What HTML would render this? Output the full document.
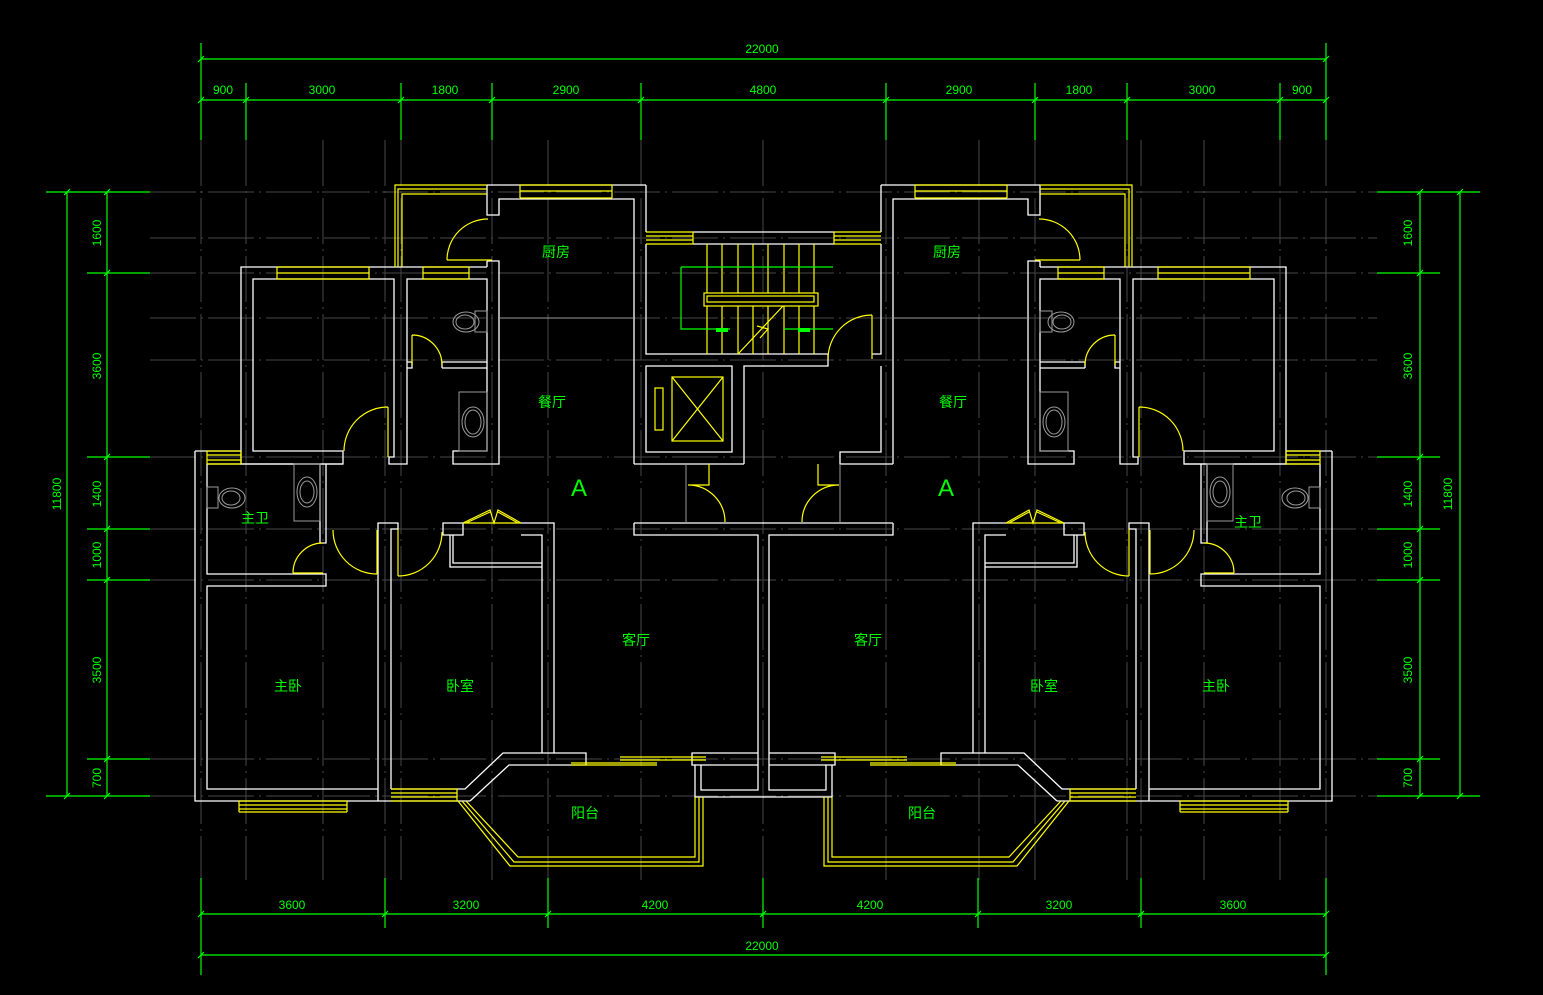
<!DOCTYPE html>
<html><head><meta charset="utf-8"><style>
html,body{margin:0;padding:0;background:#000;}
svg{display:block}
.g{stroke:#474747;stroke-width:1;fill:none;stroke-dasharray:46,5,2,5}
.w{stroke:#fff;stroke-width:1.3;fill:none}
.y{stroke:#ff0;stroke-width:1.2;fill:none}
.gr{stroke:#0f0;stroke-width:1.2;fill:none}
.gy{stroke:#9a9a9a;stroke-width:1;fill:none}
.t{fill:#0f0;font-family:"Liberation Sans",sans-serif;font-size:12px;text-anchor:middle}
.c{fill:#0f0;font-family:"Liberation Sans","Noto Sans CJK SC",sans-serif;font-size:14px;text-anchor:middle}
</style></head><body>
<svg width="1543" height="995" viewBox="0 0 1543 995" xmlns="http://www.w3.org/2000/svg">
<rect width="1543" height="995" fill="#000"/>
<!-- grid -->
<g class="g">
<path d="M201,140V880M246,140V880M323,140V880M385,140V880M401,140V880M492,140V880M548,140V880M641,140V880M763,140V880M886,140V880M979,140V880M1035,140V880M1127,140V880M1141,140V880M1204,140V880M1280,140V880M1326,140V880"/>
<path d="M150,192H1377M150,238H1377M150,273H1377M150,318H1377M150,360H1377M150,457H1377M150,529H1377M150,580H1377M150,759H1377M150,796H1377"/>
</g>
<!-- dimensions -->
<g class="gr">
<path d="M201,59H1326M201,100H1326M201,43V140M1326,43V140"/>
<path d="M246,83V140M401,83V140M492,83V140M641,83V140M886,83V140M1035,83V140M1127,83V140M1280,83V140"/>
<path d="M46,192H150M46,796H150M87,273H150M87,457H150M87,529H150M87,580H150M87,759H150M67,192V796M107,192V796"/>
<path d="M1377,192H1480M1377,796H1480M1377,273H1440M1377,457H1440M1377,529H1440M1377,580H1440M1377,759H1440M1460,192V796M1420,192V796"/>
<path d="M201,914H1326M201,955H1326M201,878V975M1326,878V975M385,878V928M548,878V928M763,878V928M978,878V928M1141,878V928"/>
</g>
<g class="gr" stroke-width="1">
<path d="M198,62l6,-6M198,103l6,-6M243,103l6,-6M398,103l6,-6M489,103l6,-6M638,103l6,-6M883,103l6,-6M1032,103l6,-6M1124,103l6,-6M1277,103l6,-6M1323,103l6,-6M1323,62l6,-6"/>
<path d="M64,195l6,-6M64,799l6,-6M104,195l6,-6M104,276l6,-6M104,460l6,-6M104,532l6,-6M104,583l6,-6M104,762l6,-6M104,799l6,-6"/>
<path d="M1457,195l6,-6M1457,799l6,-6M1417,195l6,-6M1417,276l6,-6M1417,460l6,-6M1417,532l6,-6M1417,583l6,-6M1417,762l6,-6M1417,799l6,-6"/>
<path d="M198,917l6,-6M382,917l6,-6M545,917l6,-6M760,917l6,-6M975,917l6,-6M1138,917l6,-6M1323,917l6,-6M198,958l6,-6M1323,958l6,-6"/>
</g>
<g class="t">
<text x="762" y="53">22000</text>
<text x="223" y="94">900</text><text x="322" y="94">3000</text><text x="445" y="94">1800</text><text x="566" y="94">2900</text><text x="763" y="94">4800</text><text x="959" y="94">2900</text><text x="1079" y="94">1800</text><text x="1202" y="94">3000</text><text x="1302" y="94">900</text>
<text x="292" y="909">3600</text><text x="466" y="909">3200</text><text x="655" y="909">4200</text><text x="870" y="909">4200</text><text x="1059" y="909">3200</text><text x="1233" y="909">3600</text>
<text x="762" y="950">22000</text>
<text transform="translate(61,494) rotate(-90)">11800</text>
<text transform="translate(101,233) rotate(-90)">1600</text>
<text transform="translate(101,366) rotate(-90)">3600</text>
<text transform="translate(101,494) rotate(-90)">1400</text>
<text transform="translate(101,555) rotate(-90)">1000</text>
<text transform="translate(101,670) rotate(-90)">3500</text>
<text transform="translate(101,778) rotate(-90)">700</text>
<text transform="translate(1452,494) rotate(-90)">11800</text>
<text transform="translate(1412,233) rotate(-90)">1600</text>
<text transform="translate(1412,366) rotate(-90)">3600</text>
<text transform="translate(1412,494) rotate(-90)">1400</text>
<text transform="translate(1412,555) rotate(-90)">1000</text>
<text transform="translate(1412,670) rotate(-90)">3500</text>
<text transform="translate(1412,778) rotate(-90)">700</text>
</g>
<defs>
<g id="half">
<g class="w">
<path d="M487,185H646M487,185V215H499V199H634V464M646,185V232"/>
<path d="M487,261V267M487,261H499V464H453V451H487V279H407V464H389V457H394V279H253V451H343V464H241V267H487"/>
<path d="M442,362H487M442,368H487M442,362V368M407,362H412V368H407"/>
<path d="M195,451H241M195,451V801H470M207,464H343M207,464V574H326V586H207V789H378"/>
<path d="M320,464V543H326V464"/>
<path d="M378,574V523H398V529H391V789M378,574V801"/>
<path d="M443,523H463V535H443ZM521,523H554V753H503L465,789H391M521,535H542V753M450,535V567H542M453,535V563H542"/>
<path d="M554,753H586V765H509L470,801"/>
<path d="M634,523H764M634,523V535H758V753H692V765H758M695,765V797H764M701,765V790H758V765M758,753V790"/>
</g>
<g class="y">
<path d="M395,267V185H487M398,267V189H487M402,267V194H487"/>
<path d="M520,185H612M520,191H612M520,198H612M520,185V198M612,185V198"/>
<path d="M447,260H492M447,260A41,41 0 0 1 488,219"/>
<path d="M277,267H369M277,273H369M277,279H369M277,267V279M369,267V279M423,267H469M423,273H469M423,279H469M423,267V279M469,267V279"/>
<path d="M388,407V457M344,451A44,44 0 0 1 388,407"/>
<path d="M412,335V365M412,335A30,30 0 0 1 442,365"/>
<path d="M207,451H241M207,455H241M207,460H241M207,464H241M207,451V464M241,451V464"/>
<path d="M293,573H323M293,573A30,30 0 0 1 323,543"/>
<path d="M377,530V574M333,530A44,44 0 0 0 377,574"/>
<path d="M398,529V576M398,576A44,44 0 0 0 442,532"/>
<path d="M463,523H521M463,523L490,510L494,523L498,510L521,523M466,523L490,512M518,523L498,512"/>
<path d="M391,789H457M391,793H457M391,797H457M391,801H457M457,789V801"/>
<path d="M239,801H347M239,805H347M239,809H347M239,812H347M239,801V812M347,801V812"/>
<path d="M458,801L510,866H703V797M462,801L514,862H699V797M466,801L518,857H695V797"/>
<path d="M571,763H657M571,765H657M620,757H706M620,760H706"/>
</g>
<g class="gy">
<ellipse cx="466" cy="322" rx="13" ry="10"/><ellipse cx="465" cy="322" rx="9" ry="7"/><rect x="475" y="311" width="12" height="21"/>
<rect x="459" y="392" width="28" height="59"/><ellipse cx="473" cy="422" rx="11" ry="15"/><ellipse cx="473" cy="422" rx="8" ry="12"/>
<ellipse cx="232" cy="498" rx="13" ry="10"/><ellipse cx="231" cy="498" rx="9" ry="7"/><rect x="207" y="487" width="11" height="21"/>
<rect x="294" y="464" width="26" height="57"/><ellipse cx="307" cy="492" rx="10" ry="15"/><ellipse cx="307" cy="492" rx="7" ry="11"/>
<path d="M499,318H634"/>
</g>
</g>
</defs>
<use href="#half"/>
<use href="#half" transform="matrix(-1 0 0 1 1527 0)"/>
<!-- center stair/elevator -->
<g class="w">
<path d="M693,232H834M693,244H834M646,244V354H828V366H744V464M646,366H732V452H646ZM634,464H744"/>
<path d="M881,244V354H872M881,366V452H840V464H893"/>
</g>
<g class="y">
<path d="M646,232H693M646,236H693M646,240H693M646,244H693M693,232V244M834,232H881M834,236H881M834,240H881M834,244H881M834,232V244"/>
<path d="M707,244V354M722,244V354M738,244V354M753,244V354M768,244V354M784,244V354M799,244V354M814,244V354"/>
<rect x="704" y="293" width="114" height="13" fill="#000"/><rect x="707" y="296" width="107" height="6"/>
<path d="M738,354L783,306M757,326L768,329L760,338"/>
<rect x="672" y="377" width="51" height="64"/><path d="M672,377L723,441M723,377L672,441"/>
<rect x="655" y="388" width="8" height="42"/>
<path d="M872,315V359M828,359A44,44 0 0 1 872,315"/>
<path d="M709,464V485H688M688,485A37,37 0 0 1 725,522"/>
<path d="M818,464V485H839M839,485A37,37 0 0 0 802,522"/>
</g>
<g class="gr"><path d="M681,267H833M681,267V329H730M784,329H833"/><path d="M716,330H728M798,330H810" stroke-width="4"/></g>
<g class="gy"><path d="M686,464V523M840,464V523"/></g>
<!-- labels -->
<g class="c">
<text x="556" y="257">厨房</text><text x="552" y="407">餐厅</text><text x="636" y="645">客厅</text><text x="460" y="691">卧室</text><text x="288" y="691">主卧</text><text x="255" y="523">主卫</text><text x="585" y="818">阳台</text>
<text x="947" y="257">厨房</text><text x="953" y="407">餐厅</text><text x="868" y="645">客厅</text><text x="1044" y="691">卧室</text><text x="1216" y="691">主卧</text><text x="1248" y="527">主卫</text><text x="922" y="818">阳台</text>
<text x="579" y="496" font-size="24" font-family="Liberation Sans,sans-serif">A</text>
<text x="946" y="496" font-size="24" font-family="Liberation Sans,sans-serif">A</text>
</g>
</svg>
</body></html>
